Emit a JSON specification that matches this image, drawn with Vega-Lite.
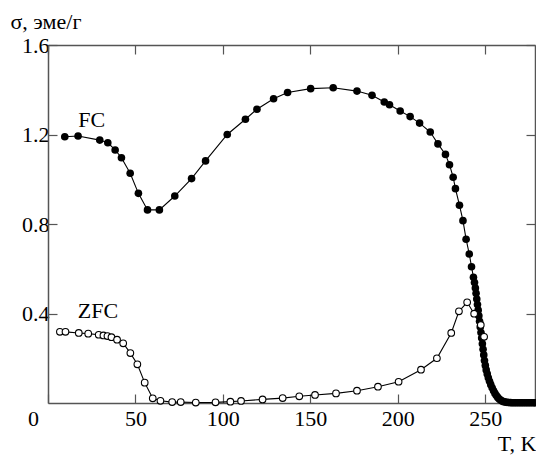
{
  "$schema": "https://vega.github.io/schema/vega-lite/v6.json",
  "width": 487,
  "height": 358,
  "autosize": "none",
  "padding": {"left": 48, "top": 45, "right": 1, "bottom": 53},
  "background": "white",
  "config": {"view": {"stroke": null}, "font": "Liberation Serif"},
  "datasets": {
    "fc": [
      {"T": 9.6, "s": 1.19}, {"T": 17.2, "s": 1.193}, {"T": 29.6, "s": 1.175}, {"T": 34.2, "s": 1.163},
      {"T": 38.4, "s": 1.131}, {"T": 42.0, "s": 1.096}, {"T": 47.0, "s": 1.027}, {"T": 51.7, "s": 0.937},
      {"T": 56.9, "s": 0.863}, {"T": 63.7, "s": 0.863}, {"T": 72.5, "s": 0.925}, {"T": 82.1, "s": 1.003},
      {"T": 90.1, "s": 1.082}, {"T": 102.5, "s": 1.2}, {"T": 112.9, "s": 1.268}, {"T": 119.5, "s": 1.313},
      {"T": 129.0, "s": 1.36}, {"T": 137.0, "s": 1.388}, {"T": 150.2, "s": 1.405}, {"T": 163.1, "s": 1.409},
      {"T": 176.7, "s": 1.394}, {"T": 185.3, "s": 1.375}, {"T": 192.3, "s": 1.345}, {"T": 195.3, "s": 1.333},
      {"T": 201.4, "s": 1.305}, {"T": 207.1, "s": 1.28}, {"T": 212.5, "s": 1.251}, {"T": 218.6, "s": 1.211},
      {"T": 223.0, "s": 1.158}, {"T": 227.3, "s": 1.111}, {"T": 229.6, "s": 1.065}, {"T": 231.7, "s": 1.009},
      {"T": 233.0, "s": 0.958}, {"T": 235.3, "s": 0.884}, {"T": 237.3, "s": 0.815}, {"T": 239.1, "s": 0.732},
      {"T": 240.9, "s": 0.666}, {"T": 242.2, "s": 0.609}, {"T": 243.3, "s": 0.562}, {"T": 243.9, "s": 0.538},
      {"T": 244.4, "s": 0.514}, {"T": 244.8, "s": 0.49}, {"T": 245.2, "s": 0.465}, {"T": 245.6, "s": 0.44},
      {"T": 246.0, "s": 0.415}, {"T": 246.4, "s": 0.39}, {"T": 246.8, "s": 0.365}, {"T": 247.2, "s": 0.34},
      {"T": 247.6, "s": 0.315}, {"T": 248.0, "s": 0.29}, {"T": 248.4, "s": 0.265}, {"T": 248.8, "s": 0.24},
      {"T": 249.2, "s": 0.215}, {"T": 249.6, "s": 0.19}, {"T": 250.1, "s": 0.168}, {"T": 250.6, "s": 0.148},
      {"T": 251.2, "s": 0.13}, {"T": 251.8, "s": 0.113}, {"T": 252.5, "s": 0.097}, {"T": 253.2, "s": 0.082},
      {"T": 254.0, "s": 0.068}, {"T": 254.8, "s": 0.055}, {"T": 255.6, "s": 0.043}, {"T": 256.4, "s": 0.033},
      {"T": 257.2, "s": 0.025}, {"T": 258.0, "s": 0.018}, {"T": 258.8, "s": 0.013}, {"T": 259.6, "s": 0.009},
      {"T": 260.5, "s": 0.006}, {"T": 261.5, "s": 0.004}, {"T": 262.5, "s": 0.003}, {"T": 263.5, "s": 0.002},
      {"T": 264.5, "s": 0.0015}, {"T": 265.5, "s": 0.001}, {"T": 266.5, "s": 0.001}, {"T": 267.5, "s": 0.001},
      {"T": 268.5, "s": 0.001}, {"T": 269.5, "s": 0.001}, {"T": 270.5, "s": 0.001}, {"T": 271.5, "s": 0.001},
      {"T": 272.5, "s": 0.001}, {"T": 273.5, "s": 0.001}, {"T": 274.5, "s": 0.001}, {"T": 275.5, "s": 0.001},
      {"T": 276.5, "s": 0.001}, {"T": 277.5, "s": 0.001}, {"T": 278.5, "s": 0.001}
    ],
    "zfc": [
      {"T": 6.8, "s": 0.318}, {"T": 10.0, "s": 0.318}, {"T": 17.6, "s": 0.313}, {"T": 23.0, "s": 0.31},
      {"T": 29.0, "s": 0.305}, {"T": 31.7, "s": 0.302}, {"T": 34.0, "s": 0.299}, {"T": 36.3, "s": 0.294},
      {"T": 39.5, "s": 0.283}, {"T": 43.0, "s": 0.267}, {"T": 47.1, "s": 0.223}, {"T": 51.1, "s": 0.173},
      {"T": 55.3, "s": 0.091}, {"T": 59.9, "s": 0.021}, {"T": 64.3, "s": 0.01}, {"T": 71.0, "s": 0.004},
      {"T": 75.9, "s": 0.004}, {"T": 84.5, "s": 0.002}, {"T": 95.8, "s": 0.003}, {"T": 104.3, "s": 0.006},
      {"T": 110.4, "s": 0.009}, {"T": 122.7, "s": 0.016}, {"T": 134.2, "s": 0.022}, {"T": 143.7, "s": 0.03},
      {"T": 152.7, "s": 0.036}, {"T": 164.7, "s": 0.043}, {"T": 176.7, "s": 0.055}, {"T": 188.7, "s": 0.073},
      {"T": 200.5, "s": 0.095}, {"T": 213.3, "s": 0.149}, {"T": 222.4, "s": 0.2}, {"T": 230.6, "s": 0.313},
      {"T": 235.0, "s": 0.41}, {"T": 239.7, "s": 0.45}, {"T": 243.7, "s": 0.399}, {"T": 247.5, "s": 0.349},
      {"T": 249.4, "s": 0.296}
    ],
    "labels": [
      {"T": 25, "s": 1.265, "text": "FC"},
      {"T": 28.6, "s": 0.411, "text": "ZFC"}
    ]
  },
  "resolve": {"axis": {"x": "independent", "y": "independent"}},
  "layer": [
    {
      "data": {"name": "fc"},
      "mark": {"type": "line", "color": "black", "strokeWidth": 1.1},
      "encoding": {
        "x": {
          "field": "T", "type": "quantitative",
          "scale": {"domain": [0, 278.5], "nice": false, "zero": false},
          "axis": {
            "orient": "bottom",
            "values": [0, 50, 100, 150, 200, 250],
            "format": "d",
            "grid": false,
            "domainColor": "#555", "domainWidth": 1.5,
            "tickColor": "#555", "tickWidth": 1.2, "tickSize": -9,
            "labelFont": "Liberation Serif", "labelFontSize": 22, "labelColor": "black",
            "labelPadding": 31, "labelBaseline": "alphabetic", "labelFlush": false,
            "labelOffset": {"condition": {"test": "datum.value === 0", "value": -15}, "value": 0},
            "title": "T, K",
            "titleFont": "Liberation Serif", "titleFontSize": 22, "titleFontWeight": "normal", "titleColor": "black",
            "titleAlign": "right", "titleBaseline": "alphabetic", "titleX": 488, "titleY": 47
          }
        },
        "y": {
          "field": "s", "type": "quantitative",
          "scale": {"domain": [0, 1.6], "nice": false},
          "axis": {
            "orient": "left",
            "values": [0.4, 0.8, 1.2, 1.6],
            "format": ".1f",
            "grid": false,
            "domainColor": "#555", "domainWidth": 1.5,
            "tickColor": "#555", "tickWidth": 1.2, "tickSize": -9,
            "labelFont": "Liberation Serif", "labelFontSize": 22, "labelColor": "black",
            "labelPadding": 8, "labelBaseline": "middle",
            "title": "σ, эме/г",
            "titleFont": "Liberation Serif", "titleFontSize": 22, "titleFontWeight": "normal", "titleColor": "black",
            "titleAngle": 0, "titleAlign": "left", "titleBaseline": "alphabetic", "titleX": -38, "titleY": -17
          }
        }
      }
    },
    {
      "data": {"name": "fc"},
      "mark": {"type": "point", "filled": true, "color": "black", "opacity": 1, "size": 58},
      "encoding": {
        "x": {"field": "T", "type": "quantitative", "scale": {"domain": [0, 278.5], "nice": false, "zero": false}, "axis": null},
        "y": {"field": "s", "type": "quantitative", "scale": {"domain": [0, 1.6], "nice": false}, "axis": null}
      }
    },
    {
      "data": {"name": "zfc"},
      "mark": {"type": "line", "color": "black", "strokeWidth": 1.1},
      "encoding": {
        "x": {
          "field": "T", "type": "quantitative",
          "scale": {"domain": [0, 278.5], "nice": false, "zero": false},
          "axis": {
            "orient": "top", "values": [0, 50, 100, 150, 200, 250], "labels": false, "title": null, "grid": false,
            "domainColor": "#555", "domainWidth": 1.5, "tickColor": "#555", "tickWidth": 1.2, "tickSize": -9
          }
        },
        "y": {
          "field": "s", "type": "quantitative",
          "scale": {"domain": [0, 1.6], "nice": false},
          "axis": {
            "orient": "right", "values": [0.4, 0.8, 1.2, 1.6], "labels": false, "title": null, "grid": false,
            "domainColor": "#555", "domainWidth": 1.5, "tickColor": "#555", "tickWidth": 1.2, "tickSize": -9
          }
        }
      }
    },
    {
      "data": {"name": "zfc"},
      "mark": {"type": "point", "filled": true, "fill": "white", "stroke": "black", "strokeWidth": 1.1, "opacity": 1, "size": 44},
      "encoding": {
        "x": {"field": "T", "type": "quantitative", "scale": {"domain": [0, 278.5], "nice": false, "zero": false}, "axis": null},
        "y": {"field": "s", "type": "quantitative", "scale": {"domain": [0, 1.6], "nice": false}, "axis": null}
      }
    },
    {
      "data": {"name": "labels"},
      "mark": {"type": "text", "font": "Liberation Serif", "fontSize": 22, "color": "black", "align": "center", "baseline": "middle"},
      "encoding": {
        "x": {"field": "T", "type": "quantitative", "scale": {"domain": [0, 278.5], "nice": false, "zero": false}, "axis": null},
        "y": {"field": "s", "type": "quantitative", "scale": {"domain": [0, 1.6], "nice": false}, "axis": null},
        "text": {"field": "text"}
      }
    }
  ]
}
